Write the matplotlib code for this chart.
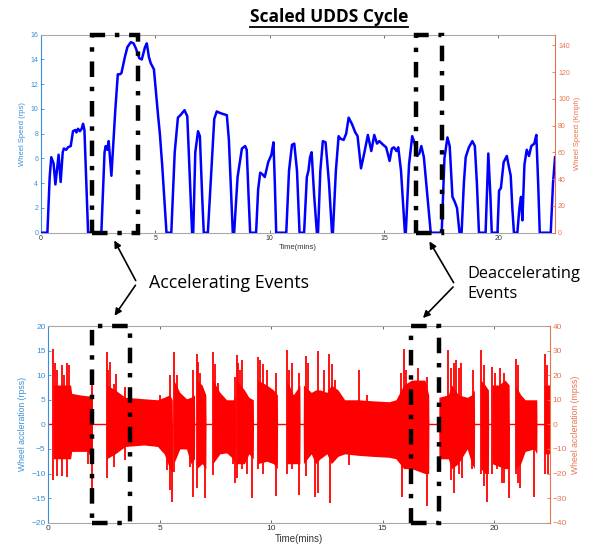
import numpy as np
import matplotlib
matplotlib.use('Agg')
import matplotlib.pyplot as plt
from matplotlib.patches import Rectangle, FancyArrowPatch
from matplotlib.lines import Line2D

# wheel speed (rps) vs time (mins)
speed_t = [0, 0.28, 0.38, 0.45, 0.55, 0.63, 0.77, 0.86, 0.95, 1.0, 1.1, 1.18, 1.3, 1.4, 1.5, 1.55, 1.62, 1.7, 1.78, 1.84, 1.9, 2.06,
           2.64, 2.78, 2.83, 2.9, 2.96, 3.08, 3.25, 3.36, 3.45, 3.52, 3.67, 3.78, 3.93, 4.05, 4.15, 4.3, 4.41, 4.55, 4.63, 4.72, 4.8, 4.94,
           5.12, 5.2, 5.3, 5.42, 5.49, 5.70, 5.85, 5.99, 6.1, 6.28, 6.4, 6.52, 6.61, 6.66, 6.75, 6.87, 6.95, 7.05, 7.12,
           7.3, 7.45, 7.58, 7.69, 7.8, 7.95, 8.13, 8.22, 8.39, 8.45, 8.6, 8.79, 8.93, 9.0, 9.08, 9.15,
           9.41, 9.5, 9.59, 9.7, 9.79, 9.94, 10.08, 10.17, 10.23, 10.29, 10.73, 10.85, 10.98, 11.08, 11.2, 11.31,
           11.51, 11.63, 11.7, 11.77, 11.84, 11.95, 12.07, 12.12, 12.22, 12.33, 12.45, 12.6, 12.73, 12.77, 12.9,
           13.02, 13.1, 13.24, 13.35, 13.46, 13.6, 13.75, 13.85, 14.0, 14.15, 14.3, 14.45, 14.58, 14.7, 14.8, 14.97,
           15.1, 15.25, 15.35, 15.44, 15.55, 15.63, 15.75, 15.92, 15.96, 16.1, 16.24, 16.35, 16.46, 16.55, 16.64, 16.75,
           16.9, 17.05, 17.53, 17.65, 17.78, 17.88, 18.0, 18.1, 18.2, 18.31, 18.40, 18.5, 18.58, 18.72, 18.87, 18.98,
           19.07, 19.16, 19.45, 19.57, 19.66, 19.72, 19.97, 20.04, 20.12, 20.24, 20.38, 20.45, 20.55, 20.62, 20.69,
           20.84, 20.93, 21.0, 21.06, 21.15, 21.25, 21.35, 21.45, 21.58, 21.67, 21.75, 21.82, 22.30, 22.40, 22.49]
speed_rps = [0, 0, 4.5, 6.1, 5.6, 3.9, 6.3, 4.1, 6.5, 6.8, 6.7, 6.9, 7.0, 8.2, 8.3, 8.1, 8.4, 8.2, 8.4, 8.8, 8.3, 0,
             0, 6.5, 7.0, 6.7, 7.4, 4.6, 9.9, 12.8, 12.8, 12.9, 14.2, 15.0, 15.4, 15.3, 14.9, 14.1, 14.0, 15.0, 15.3, 14.2, 13.7, 13.2,
             9.5, 8.0, 5.5, 2.0, 0, 0, 6.5, 9.3, 9.5, 9.9, 9.4, 4.0, 0, 0, 6.5, 8.2, 7.8, 3.0, 0,
             0, 5.0, 9.2, 9.8, 9.7, 9.6, 9.5, 7.5, 0, 0, 4.5, 6.8, 7.0, 6.7, 3.0, 0,
             0, 3.5, 4.85, 4.7, 4.5, 5.7, 6.3, 7.3, 4.0, 0, 0, 5.0, 7.1, 7.2, 5.0, 0,
             0, 4.5, 5.0, 6.1, 6.5, 3.0, 0, 0, 5.0, 7.4, 7.3, 4.0, 0, 0, 5.0,
             7.8, 7.6, 7.5, 8.0, 9.3, 8.8, 8.1, 7.8, 5.2, 6.5, 7.9, 6.6, 7.9, 7.2, 7.4, 7.1,
             6.9, 5.8, 6.8, 6.9, 6.6, 6.9, 5.0, 0, 0, 5.5, 7.8, 7.2, 6.2, 6.4, 7.0, 6.1,
             3.0, 0, 0, 6.0, 7.7, 7.0, 2.9, 2.5, 2.0, 0, 0, 4.0, 6.1, 6.9, 7.4, 7.0,
             4.0, 0, 0, 6.4, 3.0, 0, 0, 3.4, 3.6, 5.7, 6.2, 5.5, 4.6, 2.0, 0,
             0, 2.0, 2.9, 1.0, 5.5, 6.7, 6.2, 7.0, 7.2, 7.9, 4.0, 0, 0, 4.0, 6.1]

# wheel acceleration (rpss): body envelope of the oscillating trace
acc_t = [0.21, 0.22, 0.5, 1.0, 1.05, 1.4, 1.75, 1.97, 1.98,
         2.61, 2.62, 3.0, 3.45, 4.3, 4.9, 5.2, 5.45, 5.56, 5.57,
         5.62, 5.63, 5.9, 6.2, 6.4, 6.56, 6.57,
         6.65, 6.66, 6.9, 7.07, 7.08,
         7.37, 7.38, 7.7, 8.0, 8.3, 8.39, 8.40,
         8.42, 8.43, 8.8, 9.0, 9.20, 9.21,
         9.38, 9.39, 9.8, 10.1, 10.28, 10.29,
         10.69, 10.70, 11.0, 11.29, 11.30,
         11.44, 11.45, 11.8, 12.0, 12.2, 12.5, 12.7, 13.0, 13.3, 13.9, 14.5, 15.3, 15.6, 15.95, 16.3, 16.9, 17.07, 17.08,
         17.52, 17.53, 17.95, 18.1, 18.4, 18.8, 19.0, 19.12, 19.13,
         19.40, 19.41, 19.6, 19.75, 19.76,
         19.90, 19.91, 20.2, 20.5, 20.68, 20.69,
         20.95, 20.96, 21.2, 21.4, 21.8, 21.92, 21.93,
         22.25, 22.26, 22.5]
acc_hi = [0, 8, 8, 8, 6.3, 6, 5.8, 5.8, 0,
          0, 8, 7, 5.5, 5.2, 5, 5.5, 6, 5, 0,
          0, 9, 6.5, 5.2, 5.5, 6, 0,
          0, 9, 8, 6, 0,
          0, 9, 6.5, 5, 5, 6, 0,
          0, 9, 7, 5.5, 5, 0,
          0, 9, 8, 7, 6, 0,
          0, 9, 6, 8, 0,
          0, 8, 6.5, 7, 7, 6.5, 8, 7, 5, 5, 4.8, 4.6, 5, 8, 9, 9, 6, 0,
          0, 5.5, 6, 8, 6, 5.5, 6, 7, 0,
          0, 9, 8, 7, 0,
          0, 8, 8, 9, 8, 0,
          0, 8, 6, 5, 5, 5, 0,
          0, 8, 8]
acc_lo = [0, -7, -7, -7, -5.5, -5.5, -5.5, -7, 0,
          0, -7, -6, -4.5, -4.2, -4.5, -6, -9, -10, 0,
          0, -8, -5, -5, -8, -7, 0,
          0, -9, -8, -9, 0,
          0, -8, -6, -5.8, -7, -8, 0,
          0, -8, -8, -6, -7, 0,
          0, -8, -7.5, -8, -9, 0,
          0, -8, -8, -8, 0,
          0, -8, -6, -8, -7, -6, -8, -6.5, -6, -6.3, -6.5, -6.7, -7, -9, -9, -10, -10, 0,
          0, -7, -7, -9, -8, -5, -8, -9, 0,
          0, -9, -10, -10, 0,
          0, -8, -8.5, -9, -9, 0,
          0, -9, -8, -5.5, -5, -6, 0,
          0, -6, -6]

# tall individual acceleration spikes (time, rpss)
spike_up_t = [0.22, 0.30, 0.40, 0.60, 0.70, 0.83, 0.93, 1.97, 2.62, 2.70, 2.77, 2.93, 3.05, 3.44, 5.02, 5.46,
              5.64, 5.76, 6.48, 6.66, 6.73, 6.80, 7.38, 7.48, 7.60, 8.38, 8.46, 8.53, 8.60, 8.68, 9.40, 9.50,
              9.62, 9.80, 10.23, 10.70, 10.78, 10.93, 11.23, 11.56, 11.65, 12.10, 12.35, 12.60, 12.72, 12.85,
              13.94, 14.30, 15.84, 15.96, 16.05, 16.60, 17.00, 17.95, 18.08, 18.19, 18.30, 18.42, 18.50, 19.06,
              19.43, 19.55, 19.91, 20.05, 20.25, 20.45, 21.00, 21.08, 22.30, 22.38]
spike_up_v = [15.4, 12.4, 11, 12.1, 10, 12.5, 12, 9, 14.8, 11, 12.7, 8.3, 10.2, 7.5, 6, 10,
              14.8, 10, 11, 14.4, 12.7, 10.5, 14.8, 12.2, 8.5, 9.7, 14.1, 12.5, 11, 13, 13.6, 13,
              12.3, 11, 10.5, 15.1, 11, 12.5, 10.4, 13.9, 12.4, 15.0, 11, 14.4, 12.3, 9,
              11.1, 6, 10.4, 15.4, 11, 11.4, 9.7, 15.2, 11.4, 12.5, 13, 11.4, 12.5, 11,
              15.1, 12, 11.7, 10.4, 11.5, 10.5, 13.2, 12, 14.4, 12]
spike_dn_t = [0.22, 0.40, 0.60, 0.83, 1.80, 1.97, 2.62, 2.93, 3.44, 5.32, 5.46, 5.53, 5.64, 6.36, 6.48, 6.66,
              7.04, 7.38, 8.31, 8.38, 8.46, 8.68, 8.90, 9.13, 9.40, 9.62, 10.00, 10.23, 10.70, 10.93, 11.24,
              11.56, 11.99, 12.10, 12.63, 13.49, 15.88, 16.05, 17.00, 18.08, 18.19, 18.42, 18.55, 19.00, 19.43,
              19.55, 19.69, 19.91, 20.15, 20.35, 20.45, 20.66, 21.00, 21.08, 21.15, 21.80, 22.30, 22.42]
spike_dn_v = [-11.3, -10.5, -10.6, -10.8, -8, -15, -11, -8.6, -7.3, -9.3, -13.4, -15.7, -9.6, -8.6, -14.7, -13,
              -15, -10.3, -8, -12, -11, -9, -10, -15, -9, -10, -7.5, -14.5, -10, -9, -14.3,
              -10.6, -14.7, -14, -15.9, -8.3, -14.7, -8, -16.6, -11.3, -14, -10, -11, -9, -10,
              -12.5, -15.7, -10, -9, -12, -12, -15, -10, -12, -13, -14.7, -10, -10]

# highlighted event windows (mins)
accel_top = (2.23, 4.25)
decel_top = (16.39, 17.56)
accel_bot = (1.95, 3.67)
decel_bot = (16.29, 17.53)

blue_ax = '#3a8fd4'
orange_ax = '#e8744f'
spine_grey = '#a8a8a8'

plt.rcParams['font.family'] = ['Liberation Sans', 'DejaVu Sans']

fig = plt.figure(figsize=(5.97, 5.48), dpi=100)
W, H = 597.0, 548.0


def fpt(x, y):
    return (x / W, 1 - y / H)


def style_axes(ax, axr, fs, ylab_l, ylab_r, lfs):
    for s in ['top', 'bottom']:
        ax.spines[s].set_color(spine_grey)
        ax.spines[s].set_linewidth(0.8)
    ax.spines['left'].set_color(blue_ax)
    ax.spines['right'].set_visible(False)
    for s in ['top', 'bottom', 'left']:
        axr.spines[s].set_visible(False)
    axr.spines['right'].set_color(orange_ax)
    axr.spines['right'].set_linewidth(0.8)
    ax.spines['left'].set_linewidth(0.8)
    ax.tick_params(axis='x', direction='in', top=True, length=2.5, width=0.6,
                   colors='#555555', labelsize=fs, pad=2, labelcolor='#333333')
    ax.tick_params(axis='y', direction='in', length=2.5, width=0.6,
                   colors=blue_ax, labelsize=fs, pad=2)
    axr.tick_params(axis='y', direction='in', length=2.5, width=0.6,
                    colors=orange_ax, labelsize=fs, pad=2)
    ax.set_ylabel(ylab_l, color=blue_ax, fontsize=lfs, labelpad=3)
    axr.set_ylabel(ylab_r, color=orange_ax, fontsize=lfs, labelpad=3)


def event_box(ax, win, ylim):
    r = Rectangle((win[0], ylim[0]), win[1] - win[0], ylim[1] - ylim[0], fill=False,
                  edgecolor='black', lw=3.2, linestyle=(0, (3.5, 2.2, 1, 2.2)), clip_on=False, zorder=5)
    ax.add_patch(r)


# ---- top: wheel speed
ax1 = fig.add_axes([41 / W, 1 - 232.7 / H, 514.3 / W, 198 / H])
ax1r = ax1.twinx()
ax1.plot(speed_t, speed_rps, color='#0000ff', lw=1.8, zorder=3)
ax1.set_xlim(0, 22.5)
ax1.set_ylim(0, 16)
ax1.set_yticks(np.arange(0, 17, 2))
ax1.set_xticks([0, 5, 10, 15, 20])
ax1r.set_ylim(0, 148)
ax1r.set_yticks(np.arange(0, 141, 20))
style_axes(ax1, ax1r, 5, 'Wheel Speed (rps)', 'Wheel Speed (Kmph)', 5.5)
ax1.set_xlabel('Time(mins)', fontsize=5.5, color='#333333', labelpad=1)
event_box(ax1, accel_top, (0, 16))
event_box(ax1, decel_top, (0, 16))

# ---- bottom: wheel acceleration
ax2 = fig.add_axes([48.3 / W, 1 - 522.7 / H, 501.4 / W, 196.7 / H])
ax2r = ax2.twinx()
ax2.axhline(0, color='#ff0000', lw=1.0, zorder=2)
ax2.fill_between(acc_t, acc_lo, acc_hi, color='#ff0000', lw=0, zorder=2)
ax2.vlines(spike_up_t, 0, spike_up_v, color='#ff0000', lw=1.3, zorder=2)
ax2.vlines(spike_dn_t, 0, spike_dn_v, color='#ff0000', lw=1.3, zorder=2)
ax2.set_xlim(0, 22.5)
ax2.set_ylim(-20, 20)
ax2.set_yticks(np.arange(-20, 21, 5))
ax2.set_xticks([0, 5, 10, 15, 20])
ax2r.set_ylim(-40, 40)
ax2r.set_yticks(np.arange(-40, 41, 10))
style_axes(ax2, ax2r, 6, 'Wheel accleration (rpss)', 'Wheel accleration (mpss)', 6.2)
ax2.set_xlabel('Time(mins)', fontsize=7, color='#333333', labelpad=1)
event_box(ax2, accel_bot, (-20, 20))
event_box(ax2, decel_bot, (-20, 20))

# ---- title (underlined) and event annotations
title = fig.text(329 / W, 1 - 17 / H, 'Scaled UDDS Cycle', ha='center', va='center',
                 fontsize=12.5, fontweight='bold', family=['Open Sans', 'DejaVu Sans'])
fig.canvas.draw()
bb = title.get_window_extent()
fig.add_artist(Line2D([bb.x0 / W, bb.x1 / W], [(bb.y0 - 1) / H, (bb.y0 - 1) / H],
                      color='black', lw=1.3, transform=fig.transFigure))

fig.text(149 / W, 1 - 283 / H, 'Accelerating Events', ha='left', va='center',
         fontsize=12.8, family=['Open Sans', 'DejaVu Sans'])
fig.text(467 / W, 1 - 284 / H, 'Deaccelerating\nEvents', ha='left', va='center',
         fontsize=11.8, linespacing=1.3, family=['Open Sans', 'DejaVu Sans'])

for bend, ends in [((137, 283), [(113, 238), (113, 318)]),
                   ((455, 285), [(428, 239), (421, 320)])]:
    for end in ends:
        arr = FancyArrowPatch(fpt(*bend), fpt(*end), transform=fig.transFigure,
                              arrowstyle='-|>', mutation_scale=10, lw=1.2, color='black')
        fig.add_artist(arr)

fig.savefig('out.png', dpi=100)
